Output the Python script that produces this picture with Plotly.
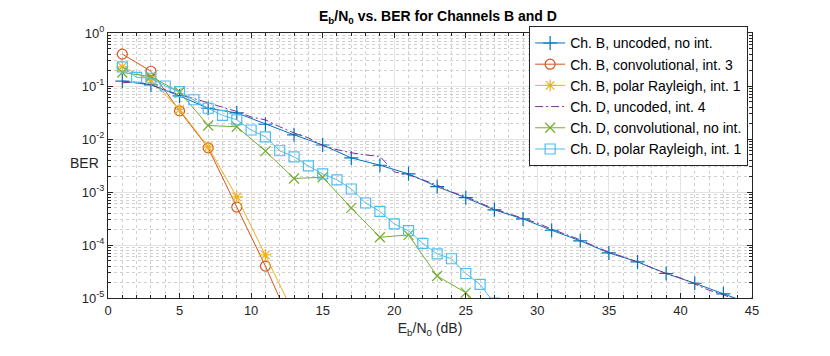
import plotly.graph_objects as go

# Eb/N0 grids (dB)
ebn0_odd = [1, 3, 5, 7, 9, 11, 13, 15, 17, 19, 21, 23, 25, 27, 29, 31, 33, 35, 37, 39, 41, 43, 45]
ebn0_b_coded = [1, 3, 5, 7, 9, 11, 13]
ebn0_d_conv = [1, 3, 5, 7, 9, 11, 13, 15, 17, 19, 21, 23, 25, 27]
ebn0_step1 = list(range(1, 46))
ebn0_d_polar = list(range(1, 28))

# BER values
ber_b_uncoded = [0.124, 0.105, 0.065, 0.038, 0.031, 0.019, 0.012, 0.0077, 0.0044, 0.0032,
                 0.0022, 0.00126, 0.00078, 0.00046, 0.00031, 0.00019, 0.00012, 7.1e-5,
                 4.8e-5, 2.9e-5, 1.9e-5, 1.2e-5, 7.6e-6]
ber_b_conv = [0.40, 0.19, 0.034, 0.0068, 0.00052, 4.0e-5, 2.4e-6]
ber_b_polar = [0.23, 0.13, 0.036, 0.0071, 0.00081, 6.5e-5, 5.0e-6]
ber_d_uncoded = [0.115, 0.12, 0.105, 0.085, 0.068, 0.058, 0.048, 0.040, 0.033, 0.026,
                 0.023, 0.017, 0.013, 0.0105, 0.0075, 0.0063, 0.0055, 0.005, 0.0047, 0.0024,
                 0.0021, 0.0017, 0.00135, 0.001, 0.00082, 0.00062, 0.00048, 0.00039, 0.00032,
                 0.00026, 0.0002, 0.00016, 0.000125, 9.5e-5, 7.3e-5, 6.0e-5, 4.8e-5, 3.7e-5,
                 2.9e-5, 2.4e-5, 1.8e-5, 1.4e-5, 1.15e-5, 9.0e-6, 7.0e-6]
ber_d_conv = [0.18, 0.15, 0.077, 0.018, 0.017, 0.0059, 0.0018, 0.0019, 0.0005, 0.00014,
              0.000155, 2.6e-5, 1.26e-5, 2.0e-6]
ber_d_polar = [0.23, 0.146, 0.14, 0.10, 0.078, 0.055, 0.038, 0.028, 0.023, 0.0148, 0.011,
               0.006, 0.0046, 0.0031, 0.0022, 0.0017, 0.00114, 0.00062, 0.00043, 0.00025,
               0.000186, 0.000107, 6.8e-5, 5.5e-5, 2.9e-5, 1.8e-5, 8.0e-6]

y_tickvals = [1, 0.1, 0.01, 0.001, 1e-4, 1e-5]
y_ticktext = ["10<sup>0</sup>", "10<sup>-1</sup>", "10<sup>-2</sup>", "10<sup>-3</sup>",
              "10<sup>-4</sup>", "10<sup>-5</sup>"]

series = [
    ("Ch. B, uncoded, no int.", ebn0_odd, ber_b_uncoded, "#0072BD", "cross-thin"),
    ("Ch. B, convolutional, int. 3", ebn0_b_coded, ber_b_conv, "#D95319", "circle-open"),
    ("Ch. B, polar Rayleigh, int. 1", ebn0_b_coded, ber_b_polar, "#EDB120", "asterisk-open"),
    ("Ch. D, uncoded, int. 4", ebn0_step1, ber_d_uncoded, "#7E2F8E", None),
    ("Ch. D, convolutional, no int.", ebn0_d_conv, ber_d_conv, "#77AC30", "x-thin-open"),
    ("Ch. D, polar Rayleigh, int. 1", ebn0_d_polar, ber_d_polar, "#4DBEEE", "square-open"),
]

fig = go.Figure()
for name, x, y, color, symbol in series:
    if symbol:
        fig.add_trace(go.Scatter(
            x=x, y=y, name=name, mode="lines+markers",
            line=dict(color=color, width=1),
            marker=dict(symbol=symbol, size=10, color=color,
                        line=dict(color=color, width=1.2)),
        ))
    else:
        # dash-dot line, no markers
        fig.add_trace(go.Scatter(
            x=x, y=y, name=name, mode="lines",
            line=dict(color=color, width=1, dash="8px,3px,2px,3px"),
        ))

axis_common = dict(
    showline=True, linecolor="#262626", linewidth=1, mirror="ticks",
    ticks="inside", ticklen=5, tickcolor="#262626",
    showgrid=True, gridcolor="#e3e3e3", gridwidth=1,
    zeroline=False, tickfont=dict(size=13, color="#262626"),
    automargin=False,
)

fig.update_xaxes(
    range=[0, 45], tickmode="linear", tick0=0, dtick=5,
    minor=dict(dtick=1, ticks="inside", ticklen=3, tickcolor="#262626",
               showgrid=True, gridcolor="#d0d0d0", griddash="dot", gridwidth=1),
    title=dict(text="E<sub>b</sub>/N<sub>0</sub> (dB)", font=dict(size=14, color="#262626"),
               standoff=6),
    **axis_common,
)
fig.update_yaxes(
    type="log", range=[-5, 0], tickvals=y_tickvals, ticktext=y_ticktext,
    minor=dict(dtick="D1", ticks="inside", ticklen=3, tickcolor="#262626",
               showgrid=True, gridcolor="#d0d0d0", griddash="dot", gridwidth=1),
    **axis_common,
)

fig.add_annotation(text="BER", xref="paper", yref="paper", x=-0.011, y=0.51,
                   xanchor="right", yanchor="middle", showarrow=False,
                   font=dict(size=14, color="#262626"))

# the page body adds an 8px offset, so margins are shifted to compensate
fig.update_layout(
    width=830, height=356,
    margin=dict(l=100, r=86, t=25, b=66),
    plot_bgcolor="white", paper_bgcolor="white",
    font=dict(family="Liberation Sans, Arial, sans-serif", color="#262626"),
    title=dict(text="<b>E<sub>b</sub>/N<sub>0</sub> vs. BER for Channels B and D</b>",
               x=0.518, xanchor="center", y=0.99, yanchor="top", pad=dict(t=0, b=0),
               font=dict(size=14, color="black")),
    legend=dict(x=0.994, xanchor="right", y=1.025, yanchor="top",
                bgcolor="white", bordercolor="#262626", borderwidth=1,
                font=dict(size=14, color="black"), tracegroupgap=0),
    showlegend=True,
)

fig.write_html("out.html")
